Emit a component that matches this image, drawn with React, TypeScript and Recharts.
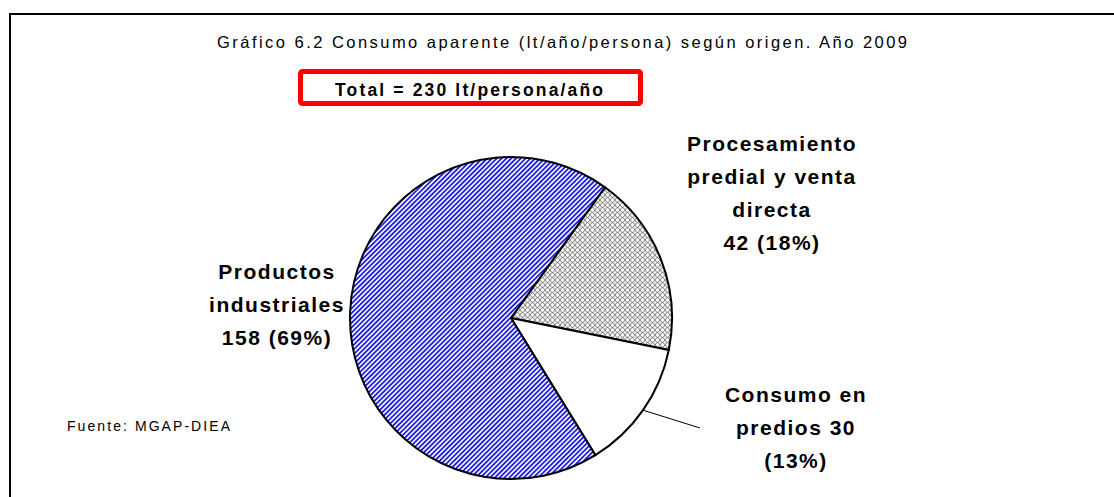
import React from 'react';
import { PieChart, Pie, Cell } from 'recharts';

const categories = ['Procesamiento predial y venta directa', 'Consumo en predios', 'Productos industriales'];
const values = [42, 30, 158];
const percents = [18, 13, 69];
const labelLines = [
  ['Procesamiento', 'predial y venta', 'directa', '42  (18%)'],
  ['Consumo en', 'predios 30', '(13%)'],
  ['Productos', 'industriales', '158 (69%)'],
];
const fills = ['url(#crossHatch)', '#ffffff', 'url(#blueStripes)'];

const title = 'Gráfico 6.2 Consumo aparente (lt/año/persona) según origen. Año 2009';
const totalText = 'Total = 230 lt/persona/año';
const source = 'Fuente:  MGAP-DIEA';

const data = categories.map((name, i) => ({ name, value: values[i], pct: percents[i], lines: labelLines[i] }));

// label placement relative to pie centre (Excel manual positions)
const labelOffset: Record<number, { dx: number; dy: number; leader?: [number, number] }> = {
  0: { dx: 261, dy: -167 },
  1: { dx: 285, dy: 84, leader: [189, 110] },
  2: { dx: -234, dy: -39 },
};

const FONT = '"Liberation Sans", Arial, sans-serif';
const RADIAN = Math.PI / 180;

const renderLabel = (props: any) => {
  const { cx, cy, midAngle, outerRadius, index } = props;
  const off = labelOffset[index];
  const lines: string[] = data[index].lines;
  const x = cx + off.dx;
  const y = cy + off.dy;
  let leader = null;
  if (off.leader) {
    const ex = cx + outerRadius * Math.cos(-midAngle * RADIAN);
    const ey = cy + outerRadius * Math.sin(-midAngle * RADIAN);
    leader = <line x1={ex} y1={ey} x2={cx + off.leader[0]} y2={cy + off.leader[1]} stroke="#000" strokeWidth={1} />;
  }
  return (
    <g key={`lbl-${index}`}>
      {leader}
      <text x={x} y={y} textAnchor="middle" fontFamily={FONT} fontWeight="bold" fontSize={21} letterSpacing={1.5} fill="#000">
        {lines.map((l, i) => (
          <tspan key={i} x={x} y={y + i * 33}>{l}</tspan>
        ))}
      </text>
    </g>
  );
};

export default function App() {
  return (
    <div style={{ position: 'absolute', left: 0, top: 0, width: 1114, height: 497, overflow: 'hidden', background: '#fff' }}>
      <div style={{ position: 'absolute', left: 9, top: 13, width: 1200, height: 600, border: '2px solid #000' }} />
      <div style={{ position: 'absolute', left: 0, top: 0 }}>
        <PieChart width={1114} height={497} margin={{ top: 0, right: 0, bottom: 0, left: 0 }}>
          <defs>
            <pattern id="blueStripes" patternUnits="userSpaceOnUse" width={3.4} height={10} patternTransform="rotate(45)">
              <rect x={0} y={0} width={3.4} height={10} fill="#ffffff" />
              <rect x={0} y={0} width={1.8} height={10} fill="#1c1ce6" />
            </pattern>
            <pattern id="crossHatch" patternUnits="userSpaceOnUse" width={5} height={5}>
              <rect x={0} y={0} width={5} height={5} fill="#f6f6f6" />
              <path d="M0,5 Q1.5,2.5 2.5,2.5 T5,0" stroke="#555" strokeWidth={0.7} fill="none" />
              <path d="M0,0 Q1.5,2.5 2.5,2.5 T5,5" stroke="#555" strokeWidth={0.7} fill="none" />
            </pattern>
          </defs>
          <Pie
            data={data}
            dataKey="value"
            nameKey="name"
            cx={511}
            cy={318}
            outerRadius={161}
            startAngle={54.3}
            endAngle={-305.7}
            stroke="#000"
            strokeWidth={2}
            label={renderLabel}
            labelLine={false}
            isAnimationActive={false}
          >
            {data.map((d, i) => (
              <Cell key={d.name} fill={fills[i]} />
            ))}
          </Pie>
        </PieChart>
      </div>
      <svg width={1114} height={497} style={{ position: 'absolute', left: 0, top: 0, pointerEvents: 'none' }}>
        <text x={562} y={48} textAnchor="middle" fontFamily={FONT} fontSize={16.5} textLength={690} lengthAdjust="spacing" fill="#000">
          {title}
        </text>
        <rect x={300.5} y={71.5} width={340} height={32} rx={2} fill="#fff" stroke="#ff0000" strokeWidth={5} />
        <text x={469} y={96} textAnchor="middle" fontFamily={FONT} fontWeight="bold" fontSize={17.5} textLength={268} lengthAdjust="spacing" fill="#000">
          {totalText}
        </text>
        <text x={67} y={431} fontFamily={FONT} fontSize={14} textLength={163} lengthAdjust="spacing" fill="#000">
          {source}
        </text>
      </svg>
    </div>
  );
}
